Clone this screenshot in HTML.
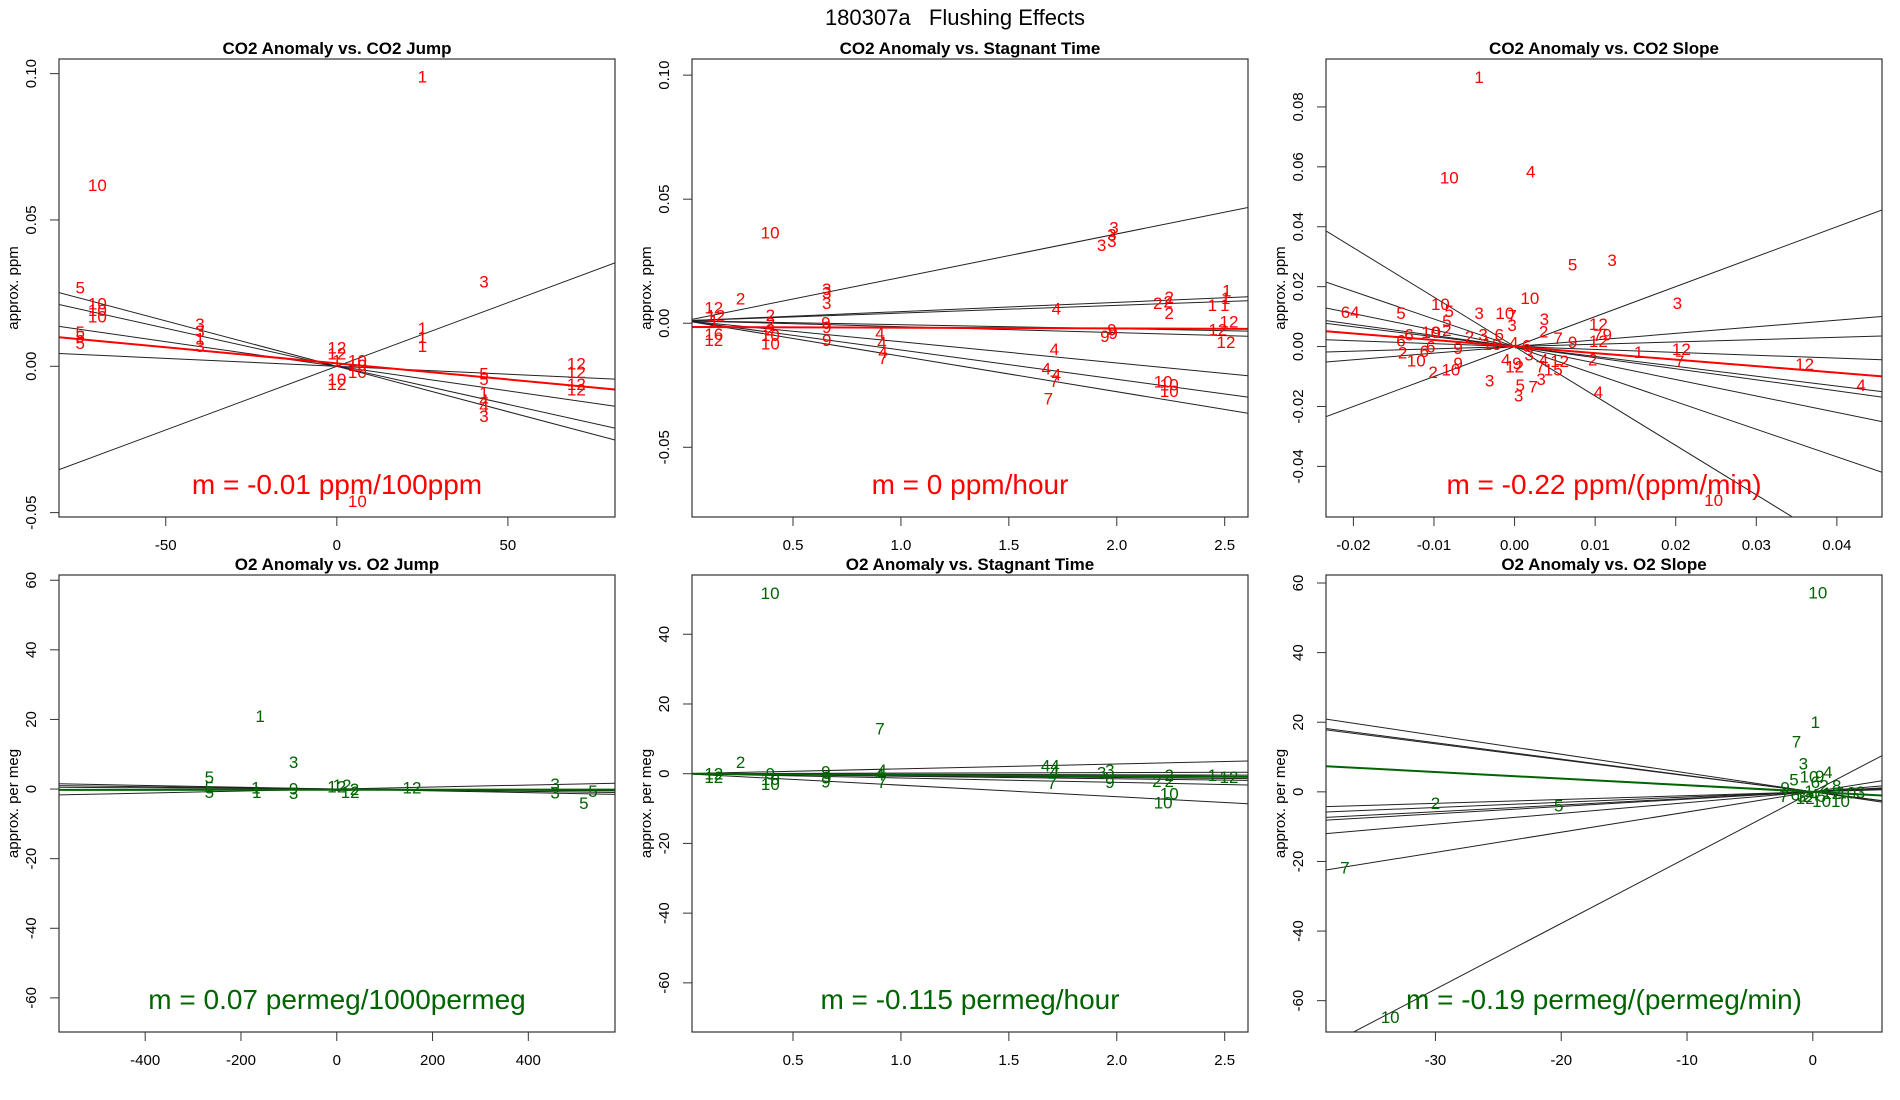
<!DOCTYPE html>
<html><head><meta charset="utf-8">
<style>
html,body{margin:0;padding:0;background:#fff;}
svg{display:block;font-family:"Liberation Sans",sans-serif;}
</style></head>
<body>
<svg id="chart" width="1900" height="1100" viewBox="0 0 1900 1100">
<text x="955" y="25" font-size="22" text-anchor="middle">180307a&#160;&#160;&#160;Flushing Effects</text>
</svg>
<script>
// ---- Panel 1: CO2 Anomaly vs CO2 Jump ----
const p1Labels=["1","10","3","5","10","10","10","3","3","1","3","1","1","1","5","5","5","12","12","1","10","10","10","10","12","5","5","1","4","4","3","12","12","12","12","10"];
const p1X=[25,-70,43,-75,-70,-70,-70,-40,-40,-40,-40,25,25,25,-75,-75,-75,0,0,0,6,6,6,0,0,43,43,43,43,43,43,70,70,70,70,6];
const p1Y=[0.099,0.062,0.029,0.027,0.0215,0.0193,0.017,0.0145,0.012,0.0095,0.007,0.013,0.010,0.0069,0.0117,0.0101,0.008,0.0065,0.0043,0.002,0.002,0.0005,-0.002,-0.0043,-0.006,-0.0025,-0.0043,-0.009,-0.0116,-0.0135,-0.017,0.001,-0.002,-0.006,-0.008,-0.046];
const p1Slopes=[0.000435,-0.00031,-0.00026,-0.000168,-0.000054];
const p1Ints=[0,0,0,0,0];
const p1Fit=[-0.00011,0.001];
const p1XTicks=[-50,0,50];
const p1XTickLabels=["-50","0","50"];
const p1YTicks=[-0.05,0,0.05,0.1];
const p1YTickLabels=["-0.05","0.00","0.05","0.10"];

// ---- Panel 2: CO2 Anomaly vs Stagnant Time ----
const p2Labels=["10","3","3","3","3","2","3","3","3","12","12","1","2","2","2","10","10","16","12","9","9","9","4","4","4","7","4","4","4","7","7","4","2","2","2","2","1","1","1","1","12","12","12","9","9","9","10","10","10"];
const p2X=[0.394,1.987,1.977,1.977,1.93,0.257,0.656,0.656,0.656,0.133,0.142,0.133,0.395,0.395,0.395,0.395,0.395,0.133,0.133,0.652,0.656,0.656,0.903,0.912,0.917,0.917,1.711,1.673,1.72,1.711,1.683,1.72,2.19,2.243,2.238,2.243,2.51,2.505,2.443,2.5,2.52,2.468,2.506,1.977,1.983,1.945,2.215,2.243,2.243];
const p2Y=[0.0365,0.0386,0.0358,0.0332,0.0315,0.0099,0.0138,0.0124,0.0081,0.0064,0.0031,0.001,0.0034,0,-0.0026,-0.0047,-0.0082,-0.0044,-0.0068,0.0003,-0.0016,-0.0068,-0.004,-0.0078,-0.0115,-0.014,-0.0104,-0.0182,-0.0207,-0.0232,-0.0303,0.006,0.0081,0.0105,0.0088,0.0041,0.0131,0.0102,0.0074,0.0074,0.0007,-0.0026,-0.0075,-0.0026,-0.004,-0.0051,-0.0234,-0.0246,-0.0274];
const p2Slopes=[0.0175,0.0037,0.0031,-0.0016,-0.0024,-0.0085,-0.0118,-0.0143];
const p2Ints=[0.001,0.001,0.001,0.001,0.001,0.001,0.001,0.001];
const p2Fit=[-0.0003,-0.0015];
const p2XTicks=[0.5,1,1.5,2,2.5];
const p2XTickLabels=["0.5","1.0","1.5","2.0","2.5"];
const p2YTicks=[-0.05,0,0.05,0.1];
const p2YTickLabels=["-0.05","0.00","0.05","0.10"];

// ---- Panel 3: CO2 Anomaly vs CO2 Slope ----
const p3Labels=["1","10","4","5","3","10","3","64","5","10","5","5","3","10","7","3","3","2","12","7","9","12","7","9","6","6","10","9","2","2","3","6","10","4","6","2","6","6","10","9","2","10","9","3","4","9","12","3","4","7","3","15","12","5","7","3","2","1","12","7","12","4","4","10"];
const p3X=[-0.0044,-0.0081,0.002,0.0072,0.0121,0.0019,0.0202,-0.0204,-0.0141,-0.0092,-0.0081,-0.0084,-0.0044,-0.0012,-0.0003,-0.0003,0.0037,0.0036,0.0104,0.0103,0.0115,0.0104,0.0054,0.0072,-0.0131,-0.0141,-0.0104,-0.0097,-0.0084,-0.0056,-0.0039,-0.0019,-0.0028,-0.0001,0.0015,-0.0139,-0.0112,-0.0104,-0.0122,-0.007,-0.0101,-0.0079,-0.007,-0.0031,-0.0011,0.0003,0,0.0018,0.0036,0.0032,0.0033,0.0048,0.0056,0.0007,0.0023,0.0005,0.0097,0.0154,0.0207,0.0205,0.036,0.043,0.0104,0.0247];
const p3Y=[0.09,0.0565,0.0584,0.0274,0.0289,0.0162,0.0145,0.0116,0.0112,0.0142,0.0119,0.0086,0.0112,0.0112,0.0104,0.0072,0.0092,0.0051,0.0076,0.0039,0.0041,0.0018,0.0029,0.0015,0.0041,0.0021,0.0048,0.0048,0.0056,0.0033,0.0041,0.0041,0.0009,0.0013,0.0004,-0.002,-0.0014,0,-0.0046,-0.0005,-0.0085,-0.0076,-0.0055,-0.0114,-0.0044,-0.0055,-0.0067,-0.0026,-0.0044,-0.0067,-0.0108,-0.0076,-0.0049,-0.0129,-0.0134,-0.0164,-0.0044,-0.0018,-0.0008,-0.0049,-0.0058,-0.0128,-0.0152,-0.0512];
const p3Slopes=[-1.65,1.0,-0.92,-0.55,-0.37,-0.33,-0.097,0.077,0.22];
const p3Ints=[0,0,0,0,0,0,0,0,0];
const p3Fit=[-0.218,0];
const p3XTicks=[-0.02,-0.01,0,0.01,0.02,0.03,0.04];
const p3XTickLabels=["-0.02","-0.01","0.00","0.01","0.02","0.03","0.04"];
const p3YTicks=[-0.04,-0.02,0,0.02,0.04,0.06,0.08];
const p3YTickLabels=["-0.04","-0.02","0.00","0.02","0.04","0.06","0.08"];

// ---- Panel 4: O2 Anomaly vs O2 Jump ----
const p4Labels=["1","3","5","5","5","1","1","9","3","12","12","12","2","12","3","3","5","5"];
const p4X=[-160,-90,-266,-266,-266,-169,-167,-90,-90,0,11,28,37,157,456,456,535,516];
const p4Y=[21,7.8,3.5,0.5,-0.8,0.5,-0.8,0.2,-1.2,0.8,1.2,-0.8,0,0.5,1.5,-1.0,-0.5,-4];
const p4Slopes=[0.0029,-0.0026,-0.0017,-0.0009];
const p4Ints=[0,0,0,0];
const p4Fit=[0.00007,-0.2];
const p4XTicks=[-400,-200,0,200,400];
const p4XTickLabels=["-400","-200","0","200","400"];
const p4YTicks=[-60,-40,-20,0,20,40,60];
const p4YTickLabels=["-60","-40","-20","0","20","40","60"];

// ---- Panel 5: O2 Anomaly vs Stagnant Time ----
const p5Labels=["10","7","2","12","12","9","10","10","9","9","9","4","7","4","44","4","7","3","3","9","2","2","2","10","10","1","12"];
const p5X=[0.394,0.903,0.257,0.133,0.133,0.395,0.395,0.395,0.652,0.656,0.652,0.912,0.912,0.903,1.692,1.711,1.7,1.968,1.93,1.968,2.186,2.243,2.243,2.243,2.215,2.443,2.52];
const p5Y=[51.9,13,3.4,0,-1,0,-3,-1.5,0.6,-1,-2.2,1.1,-2.4,-0.2,2.4,0.6,-2.6,1.1,0.4,-2.4,-2.1,-0.4,-2.1,-5.7,-8.2,-0.4,-0.9];
const p5Slopes=[1.4,0.16,-0.16,-0.54,-0.74,-1.24,-3.3];
const p5Ints=[0,0,0,0,0,0,0];
const p5Fit=[-0.35,0];
const p5XTicks=[0.5,1,1.5,2,2.5];
const p5XTickLabels=["0.5","1.0","1.5","2.0","2.5"];
const p5YTicks=[-60,-40,-20,0,20,40];
const p5YTickLabels=["-60","-40","-20","0","20","40"];

// ---- Panel 6: O2 Anomaly vs O2 Slope ----
const p6Labels=["10","1","7","3","5","10","4","9","6","2","8","9","7","6","3","2","12","10","10","12","10","3","1","4","5","2","5","7","10"];
const p6X=[0.4,0.2,-1.3,-0.75,-1.5,-0.3,1.2,0.55,0.2,0.9,1.9,-2.2,-2.3,-1.4,-0.9,-0.4,-0.6,0.7,2.2,1.5,2.7,3.8,-0.3,0.1,0.7,-30,-20.2,-37.2,-33.6];
const p6Y=[57.3,20,14.5,8.1,3.6,4.4,5.7,4.6,2.8,1.8,1.8,1.3,-1.2,-0.7,-1.2,-1.2,-1.7,-2.7,-2.7,-0.4,-0.2,0,0.3,-0.7,-1.2,-3.2,-3.9,-21.8,-64.7];
const p6Slopes=[-0.54,-0.47,-0.46,0.11,0.15,0.19,0.21,0.31,0.58,1.89];
const p6Ints=[0,0,0,0,0,0,0,0,0,0];
const p6Fit=[-0.19,0];
const p6XTicks=[-30,-20,-10,0];
const p6XTickLabels=["-30","-20","-10","0"];
const p6YTicks=[-60,-40,-20,0,20,40,60];
const p6YTickLabels=["-60","-40","-20","0","20","40","60"];

const NS="http://www.w3.org/2000/svg";
const svgEl=document.getElementById('chart');
function mk(tag,attrs,parent){const e=document.createElementNS(NS,tag);for(const k in attrs)e.setAttribute(k,attrs[k]);(parent||svgEl).appendChild(e);return e;}

function drawPanel(id,box,dom,title,ytitle,labels,xs,ys,slopes,ints,fit,color,mtext,xt,xtl,yt,ytl){
  const g=mk('g',{});
  
  
  const L=box[0],T=box[1],R=box[2],B=box[3];
  const x0=dom[0],x1=dom[1],y0=dom[2],y1=dom[3];
  const sx=v=>L+(v-x0)/(x1-x0)*(R-L);
  const sy=v=>B-(v-y0)/(y1-y0)*(B-T);
  const cp=mk('clipPath',{id:id+'-clip'},g);mk('rect',{x:L,y:T,width:R-L,height:B-T},cp);
  const tt=mk('text',{x:(L+R)/2,y:T-5,'font-size':17,'font-weight':'bold','text-anchor':'middle'},g);tt.textContent=title;
  
  
  const yt2=mk('text',{x:L-41,y:(T+B)/2,'font-size':15,'text-anchor':'middle',transform:'rotate(-90 '+(L-41)+' '+((T+B)/2)+')'},g);yt2.textContent=ytitle;
  
  
  const lg=mk('g',{'clip-path':'url(#'+id+'-clip)'},g);
  for(let i=0;i<slopes.length;i++){
    const l=mk('line',{x1:sx(x0),y1:sy(ints[i]+slopes[i]*x0),x2:sx(x1),y2:sy(ints[i]+slopes[i]*x1),stroke:'#222','stroke-width':1},lg);
    
    
  }
  const fl=mk('line',{x1:sx(x0),y1:sy(fit[1]+fit[0]*x0),x2:sx(x1),y2:sy(fit[1]+fit[0]*x1),stroke:color,'stroke-width':2},lg);
  
  
  for(let i=0;i<labels.length;i++){
    const t=mk('text',{x:sx(xs[i]),y:sy(ys[i])+6,'font-size':17,fill:color,'text-anchor':'middle'},g);t.textContent=labels[i];
    
    
  }
  const m=mk('text',{x:(L+R)/2,y:B-23,'font-size':28,fill:color,'text-anchor':'middle'},g);m.textContent=mtext;
  
  
  mk('rect',{x:L,y:T,width:R-L,height:B-T,fill:'none',stroke:'#333','stroke-width':1.2},g);
  for(let i=0;i<xt.length;i++){
    const x=sx(xt[i]);mk('line',{x1:x,y1:B,x2:x,y2:B+9,stroke:'#333'},g);
    const t=mk('text',{x:x,y:B+33,'font-size':15,'text-anchor':'middle'},g);t.textContent=xtl[i];
    
    
  }
  for(let i=0;i<yt.length;i++){
    const y=sy(yt[i]);mk('line',{x1:L,y1:y,x2:L-9,y2:y,stroke:'#333'},g);
    const t=mk('text',{x:L-23,y:y,'font-size':15,'text-anchor':'middle',transform:'rotate(-90 '+(L-23)+' '+y+')'},g);t.textContent=ytl[i];
    
    
  }
}
const RED='#ff0000',GRN='#006400';
const rowTop=[59,517],rowBot=[575,1032];
drawPanel('co2-jump',[59,rowTop[0],615,rowTop[1]],[-81.2,81.3,-0.0515,0.105],'CO2 Anomaly vs. CO2 Jump','approx. ppm',p1Labels,p1X,p1Y,p1Slopes,p1Ints,p1Fit,RED,'m = -0.01 ppm/100ppm',p1XTicks,p1XTickLabels,p1YTicks,p1YTickLabels);
drawPanel('co2-stagnant',[692,rowTop[0],1248,rowTop[1]],[0.032,2.608,-0.0781,0.1065],'CO2 Anomaly vs. Stagnant Time','approx. ppm',p2Labels,p2X,p2Y,p2Slopes,p2Ints,p2Fit,RED,'m = 0 ppm/hour',p2XTicks,p2XTickLabels,p2YTicks,p2YTickLabels);
drawPanel('co2-slope',[1326,rowTop[0],1882,rowTop[1]],[-0.0234,0.0456,-0.0569,0.096],'CO2 Anomaly vs. CO2 Slope','approx. ppm',p3Labels,p3X,p3Y,p3Slopes,p3Ints,p3Fit,RED,'m = -0.22 ppm/(ppm/min)',p3XTicks,p3XTickLabels,p3YTicks,p3YTickLabels);
drawPanel('o2-jump',[59,rowBot[0],615,rowBot[1]],[-580,581,-69.8,61.5],'O2 Anomaly vs. O2 Jump','approx. per meg',p4Labels,p4X,p4Y,p4Slopes,p4Ints,p4Fit,GRN,'m = 0.07 permeg/1000permeg',p4XTicks,p4XTickLabels,p4YTicks,p4YTickLabels);
drawPanel('o2-stagnant',[692,rowBot[0],1248,rowBot[1]],[0.032,2.608,-74.1,57],'O2 Anomaly vs. Stagnant Time','approx. per meg',p5Labels,p5X,p5Y,p5Slopes,p5Ints,p5Fit,GRN,'m = -0.115 permeg/hour',p5XTicks,p5XTickLabels,p5YTicks,p5YTickLabels);
drawPanel('o2-slope',[1326,rowBot[0],1882,rowBot[1]],[-38.7,5.5,-69,62.3],'O2 Anomaly vs. O2 Slope','approx. per meg',p6Labels,p6X,p6Y,p6Slopes,p6Ints,p6Fit,GRN,'m = -0.19 permeg/(permeg/min)',p6XTicks,p6XTickLabels,p6YTicks,p6YTickLabels);
</script>
</body></html>
